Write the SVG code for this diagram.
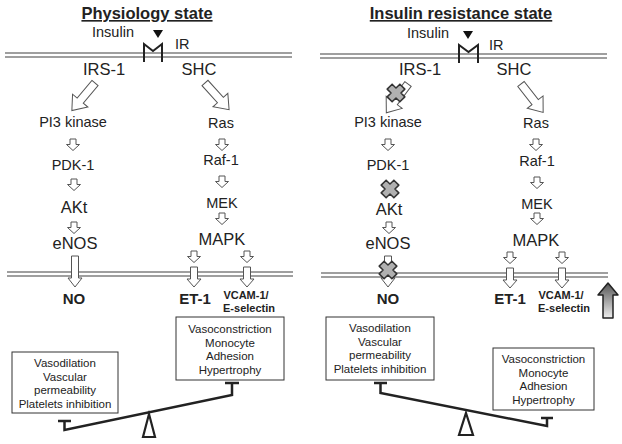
<svg xmlns="http://www.w3.org/2000/svg" width="622" height="444" viewBox="0 0 622 444">
<style>
text{font-family:"Liberation Sans",Arial,sans-serif;fill:#222;text-anchor:middle}
.t{font-weight:bold;font-size:16.5px;text-decoration:underline}
.m{font-size:14.5px}
.l{font-size:16.5px}
.b{font-weight:bold;font-size:15px}
.s{font-weight:bold;font-size:11px}
.x{font-size:11.5px}
.mem{stroke:#808080;stroke-width:1.3;fill:none}
.ar{fill:#fff;stroke:#555;stroke-width:1}
.box{fill:#fff;stroke:#333;stroke-width:1}
.beam{stroke:#222;stroke-width:2.5;fill:none}
.ful{fill:#fff;stroke:#222;stroke-width:2.2}
.rec{stroke:#222;stroke-width:2;fill:none}
.cross{fill:#b0b0b0;stroke:#333;stroke-width:1.5;stroke-linejoin:round}
</style>
<defs>
<path id="sa" d="M-3,0H3V5.5H6.5L0,11.5L-6.5,5.5H-3Z"/>
<path id="la" d="M-3.5,0H3.5V12H7L0,20L-7,12H-3.5Z"/>
<path id="na" d="M-3.5,0H3.5V22H7L0,31L-7,22H-3.5Z"/>
<path id="ba" d="M-4,0H4V23H10L0,36L-10,23H-4Z"/>
<path id="cx" d="M-3.5,-9H3.5V-3.5H9V3.5H3.5V9H-3.5V3.5H-9V-3.5H-3.5Z" transform="rotate(45)"/>
<linearGradient id="gg" x1="0" y1="0" x2="0" y2="1">
<stop offset="0" stop-color="#555"/>
<stop offset="1" stop-color="#eee"/>
</linearGradient>
</defs>

<g id="membranes">
<path class="mem" d="M5,53H292M5,57H292M7,272H293M7,276H293"/>
<path class="mem" d="M320,54H607M320,58H607M321,273H608M321,277H608"/>
</g>

<g id="connectors">
<use href="#ba" class="ar" transform="translate(95,83) rotate(40)"/>
<use href="#ba" class="ar" transform="translate(205,83) rotate(-42)"/>
<use href="#sa" class="ar" transform="translate(73,139)"/>
<use href="#sa" class="ar" transform="translate(222,139)"/>
<use href="#sa" class="ar" transform="translate(74,179)"/>
<use href="#sa" class="ar" transform="translate(222,176)"/>
<use href="#sa" class="ar" transform="translate(74,222)"/>
<use href="#sa" class="ar" transform="translate(222,213)"/>
<use href="#na" class="ar" transform="translate(75,256)"/>
<use href="#sa" class="ar" transform="translate(194,251)"/>
<use href="#sa" class="ar" transform="translate(247,251)"/>
<use href="#la" class="ar" transform="translate(194,267)"/>
<use href="#la" class="ar" transform="translate(247,267)"/>

<use href="#ba" class="ar" transform="translate(408,84) rotate(37)"/>
<use href="#ba" class="ar" transform="translate(521,84) rotate(-38)"/>
<use href="#sa" class="ar" transform="translate(388,139)"/>
<use href="#sa" class="ar" transform="translate(536,139)"/>
<use href="#sa" class="ar" transform="translate(537,177)"/>
<use href="#sa" class="ar" transform="translate(389,222)"/>
<use href="#sa" class="ar" transform="translate(537,213)"/>
<use href="#na" class="ar" transform="translate(388,256)"/>
<use href="#sa" class="ar" transform="translate(510,252)"/>
<use href="#sa" class="ar" transform="translate(562,252)"/>
<use href="#la" class="ar" transform="translate(510,268)"/>
<use href="#la" class="ar" transform="translate(562,268)"/>

<use href="#cx" class="cross" transform="translate(396,93)"/>
<use href="#cx" class="cross" transform="translate(390,189)"/>
<use href="#cx" class="cross" transform="translate(388,270)"/>

<path d="M608,283L618,295H613V318H603V295H598Z" fill="url(#gg)" stroke="#222" stroke-width="1.5" stroke-linejoin="round"/>
</g>

<g id="left-panel">
<text class="t" x="147" y="19">Physiology state</text>
<g id="L-receptor">
<text class="m" x="113" y="37">Insulin</text>
<path d="M153,30H163L158,38Z" fill="#111"/>
<path class="rec" d="M144,62V44L153,51L162,44V62"/>
<text class="m" x="175" y="49" style="text-anchor:start">IR</text>
</g>
<g id="L-irs1"><text class="l" x="104" y="75">IRS-1</text></g>
<g id="L-shc"><text class="l" x="199" y="75">SHC</text></g>
<g id="L-pi3k"><text class="m" x="73" y="127">PI3 kinase</text></g>
<g id="L-ras"><text class="m" x="221" y="128">Ras</text></g>
<g id="L-pdk1"><text class="m" x="73" y="170">PDK-1</text></g>
<g id="L-raf1"><text class="m" x="221" y="165">Raf-1</text></g>
<g id="L-akt"><text class="l" x="74" y="213">AKt</text></g>
<g id="L-mek"><text class="m" x="222" y="208">MEK</text></g>
<g id="L-enos"><text class="l" x="75" y="249">eNOS</text></g>
<g id="L-mapk"><text class="l" x="222" y="245">MAPK</text></g>
<g id="L-no"><text class="b" x="74" y="304">NO</text></g>
<g id="L-et1"><text class="b" x="195" y="304">ET-1</text></g>
<g id="L-vcam"><text class="s" x="246" y="299">VCAM-1/</text><text class="s" x="249" y="312">E-selectin</text></g>
<g id="L-box-constr">
<rect class="box" x="176" y="317" width="108" height="63"/>
<text class="x" x="230" y="333">Vasoconstriction</text>
<text class="x" x="230" y="346.5">Monocyte</text>
<text class="x" x="230" y="360">Adhesion</text>
<text class="x" x="230" y="373.5">Hypertrophy</text>
</g>
<g id="L-box-dil">
<rect class="box" x="12" y="352" width="106" height="61"/>
<text class="x" x="65" y="367">Vasodilation</text>
<text class="x" x="65" y="380.5">Vascular</text>
<text class="x" x="65" y="394">permeability</text>
<text class="x" x="65" y="407.5">Platelets inhibition</text>
</g>
<g id="L-balance">
<path class="beam" d="M58,421H71M64.5,421V430L232,395V383M225,383H239"/>
<path class="ful" d="M149,414L155,437H143Z"/>
</g>
</g>

<g id="right-panel">
<text class="t" x="461" y="19">Insulin resistance state</text>
<g id="R-receptor">
<text class="m" x="428" y="38">Insulin</text>
<path d="M463,31H473L468,39Z" fill="#111"/>
<path class="rec" d="M459,63V45L468.5,52L478,45V63"/>
<text class="m" x="489" y="50" style="text-anchor:start">IR</text>
</g>
<g id="R-irs1"><text class="l" x="420" y="75">IRS-1</text></g>
<g id="R-shc"><text class="l" x="514" y="75">SHC</text></g>
<g id="R-pi3k"><text class="m" x="388" y="127">PI3 kinase</text></g>
<g id="R-ras"><text class="m" x="536" y="128">Ras</text></g>
<g id="R-pdk1"><text class="m" x="388" y="170">PDK-1</text></g>
<g id="R-raf1"><text class="m" x="537" y="166">Raf-1</text></g>
<g id="R-akt"><text class="l" x="389" y="215">AKt</text></g>
<g id="R-mek"><text class="m" x="537" y="209">MEK</text></g>
<g id="R-enos"><text class="l" x="388" y="249">eNOS</text></g>
<g id="R-mapk"><text class="l" x="536" y="246">MAPK</text></g>
<g id="R-no"><text class="b" x="388" y="304">NO</text></g>
<g id="R-et1"><text class="b" x="510" y="304">ET-1</text></g>
<g id="R-vcam"><text class="s" x="561" y="299">VCAM-1/</text><text class="s" x="564" y="312">E-selectin</text></g>
<g id="R-box-dil">
<rect class="box" x="326" y="317" width="108" height="63"/>
<text class="x" x="380" y="332">Vasodilation</text>
<text class="x" x="380" y="345.5">Vascular</text>
<text class="x" x="380" y="359">permeability</text>
<text class="x" x="380" y="372.5">Platelets inhibition</text>
</g>
<g id="R-box-constr">
<rect class="box" x="493" y="348" width="101" height="62"/>
<text class="x" x="543.5" y="363">Vasoconstriction</text>
<text class="x" x="543.5" y="376.5">Monocyte</text>
<text class="x" x="543.5" y="390">Adhesion</text>
<text class="x" x="543.5" y="403.5">Hypertrophy</text>
</g>
<g id="R-balance">
<path class="beam" d="M374,383H387M380.5,383V393L547,426V418M541,418H553"/>
<path class="ful" d="M466,413L473,435H459Z"/>
</g>
</g>
</svg>
